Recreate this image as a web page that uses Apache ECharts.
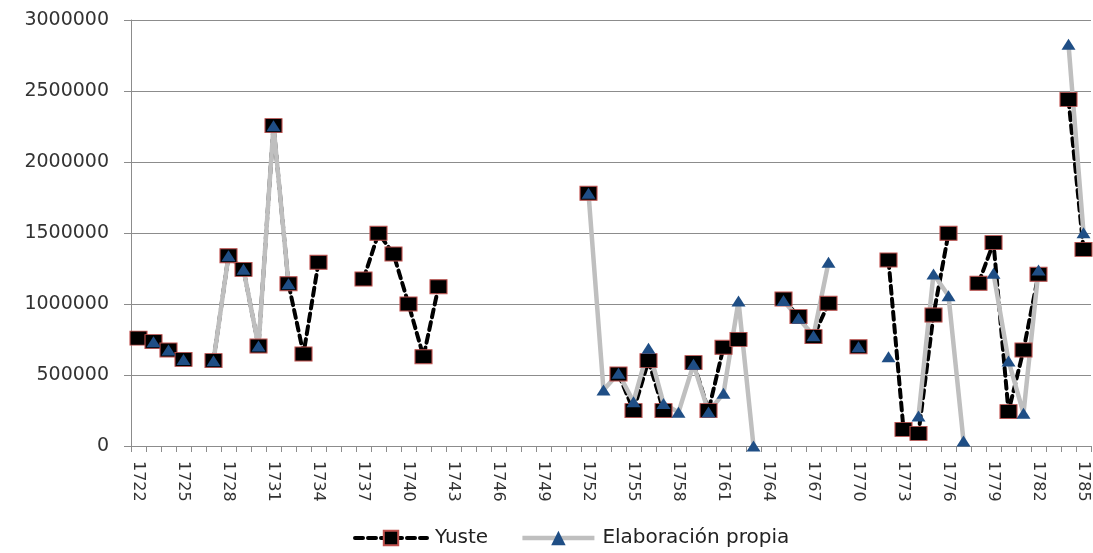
<!DOCTYPE html>
<html>
<head>
<meta charset="utf-8">
<script src="https://cdn.jsdelivr.net/npm/echarts@6/dist/echarts.min.js"></script>
<style>
  html, body { margin: 0; padding: 0; background: #fff; }
  #chart { width: 1093px; height: 553px; }
</style>
</head>
<body>
<div id="chart"></div>
<script>
// Years 1722–1785
const years = [];
for (let y = 1722; y <= 1785; y++) years.push(String(y));

// Series values by year (null = no record)
const yuste = [
  760000, 735000, 676000, 610000, null, 601000, 1340000, 1244000, 704000, 2256000,   // 1722-1731
  1143000, 648000, 1294000, null, null, 1176000, 1498000, 1352000, 1000000, 629000,  // 1732-1741
  1122000, null, null, null, null, null, null, null, null, null,                     // 1742-1751
  1780000, null, 507000, 249000, 601000, 249000, null, 587000, 249000, 695000,       // 1752-1761
  751000, null, null, 1035000, 911000, 770000, 1005000, null, 699000, null,          // 1762-1771
  1310000, 117000, 89000, 922000, 1498000, null, 1146000, 1432000, 242000, 676000,   // 1772-1781
  1209000, null, 2441000, 1385000                                                    // 1782-1785
];

const propia = [
  null, 735000, 676000, 610000, null, 601000, 1340000, 1244000, 704000, 2256000,     // 1722-1731
  1143000, null, null, null, null, null, null, null, null, null,                     // 1732-1741
  null, null, null, null, null, null, null, null, null, null,                        // 1742-1751
  1780000, 394000, 512000, 312000, 688000, 300000, 237000, 575000, 240000, 371000,   // 1752-1761
  1021000, 0, null, 1025000, 899000, 777000, 1294000, null, 699000, null,            // 1762-1771
  629000, null, 211000, 1211000, 1058000, 35000, null, 1216000, 599000, 230000,      // 1772-1781
  1239000, null, 2829000, 1502000                                                    // 1782-1785
];

const seriesNames = ['Yuste', 'Elaboración propia'];
const yTicks = { min: 0, max: 3000000, step: 500000 };

const chart = echarts.init(document.getElementById('chart'), null, { renderer: 'canvas' });
const font = 'DejaVu Sans';

const yusteLine = { color: '#000000', width: 4, type: [8, 5], cap: 'round' };
const propiaLine = { color: '#bfbfbf', width: 4.5 };

chart.setOption({
  animation: false,
  backgroundColor: '#ffffff',
  grid: { left: 131, right: 2, top: 20, bottom: 107, containLabel: false },
  legend: {
    left: 348,
    bottom: 0,
    itemGap: 32,
    itemWidth: 72,
    itemHeight: 18,
    textStyle: { fontFamily: font, fontSize: 20, color: '#222', padding: [0, 0, 0, 3] },
    data: [
      { name: seriesNames[0], lineStyle: yusteLine },
      { name: seriesNames[1], lineStyle: propiaLine }
    ]
  },
  xAxis: {
    type: 'category',
    data: years,
    boundaryGap: true,
    axisLine: { lineStyle: { color: '#8c8c8c', width: 1 } },
    axisTick: { show: true, interval: 0, length: 6, lineStyle: { color: '#8c8c8c' } },
    axisLabel: {
      interval: 2,
      rotate: -90,
      margin: 15,
      fontFamily: font,
      fontSize: 16,
      color: '#333'
    },
    splitLine: { show: false }
  },
  yAxis: {
    type: 'value',
    min: yTicks.min,
    max: yTicks.max,
    interval: yTicks.step,
    axisLine: { show: true, lineStyle: { color: '#8c8c8c', width: 1 } },
    axisTick: { show: true, length: 7, lineStyle: { color: '#8c8c8c' } },
    axisLabel: {
      fontFamily: font,
      fontSize: 19,
      color: '#333',
      margin: 22,
      formatter: v => String(v)
    },
    splitLine: { show: true, lineStyle: { color: '#8c8c8c', width: 1 } }
  },
  series: [
    {
      name: seriesNames[0],
      type: 'line',
      data: yuste,
      connectNulls: false,
      symbol: 'rect',
      symbolSize: [17, 14],
      showAllSymbol: true,
      lineStyle: yusteLine,
      itemStyle: { color: '#000000', borderColor: '#c0504d', borderWidth: 1 }
    },
    {
      name: seriesNames[1],
      type: 'line',
      data: propia,
      connectNulls: false,
      symbol: 'triangle',
      symbolSize: [14, 11],
      showAllSymbol: true,
      lineStyle: propiaLine,
      itemStyle: { color: '#1f4e85', borderColor: '#1f4e85', borderWidth: 0 }
    }
  ]
});
</script>
</body>
</html>
